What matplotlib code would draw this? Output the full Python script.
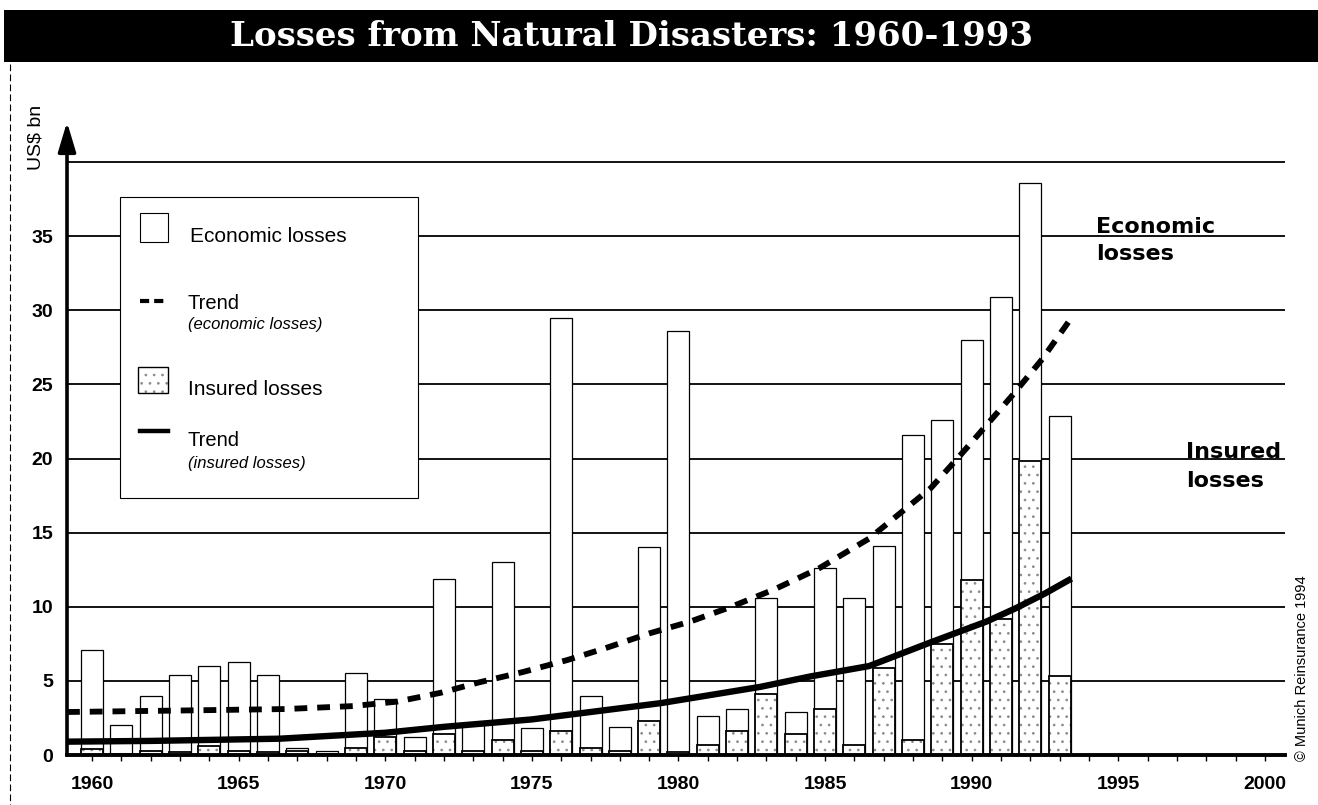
import numpy as np
import matplotlib
matplotlib.use("Agg")
import matplotlib.pyplot as plt
from matplotlib.patches import Rectangle
from matplotlib.lines import Line2D
from matplotlib.ticker import MultipleLocator

plt.rcParams['font.family'] = ['Liberation Sans', 'DejaVu Sans']
plt.rcParams['hatch.linewidth'] = 0.7

# values (US$ bn)
years = np.arange(1960, 1994)
economic = [7.1, 2.0, 4.0, 5.4, 6.0, 6.3, 5.4, 0.5, 0.3, 5.5,
            3.8, 1.2, 11.9, 2.0, 13.0, 1.8, 29.5, 4.0, 1.9, 14.0,
            28.6, 2.6, 3.1, 10.6, 2.9, 12.6, 10.6, 14.1, 21.6, 22.6,
            28.0, 30.9, 38.6, 22.9]
insured = [0.4, 0.1, 0.3, 0.2, 0.6, 0.3, 0.2, 0.3, 0.1, 0.5,
           1.2, 0.3, 1.4, 0.3, 1.0, 0.3, 1.6, 0.5, 0.3, 2.3,
           0.2, 0.7, 1.6, 4.1, 1.4, 3.1, 0.7, 5.9, 1.0, 7.5,
           11.8, 9.2, 19.8, 5.3]

econ_trend_x = [1959.15, 1963.0, 1966.6, 1968.9, 1970.4, 1971.9, 1973.2, 1974.7,
                1976.2, 1977.5, 1979.0, 1980.4, 1981.8, 1983.3, 1984.8, 1986.5,
                1988.6, 1989.6, 1990.7, 1991.4, 1992.4, 1993.4]
econ_trend_y = [2.9, 3.0, 3.1, 3.3, 3.6, 4.2, 4.9, 5.6,
                6.4, 7.2, 8.2, 9.0, 10.0, 11.2, 12.6, 14.6,
                18.0, 20.2, 22.7, 24.3, 26.7, 29.5]

ins_trend_x = [1959.15, 1962.0, 1966.4, 1970.0, 1972.0, 1975.0, 1976.6, 1979.4,
               1982.8, 1984.5, 1986.5, 1988.6, 1990.5, 1991.5, 1992.5, 1993.4]
ins_trend_y = [0.9, 0.95, 1.1, 1.5, 1.9, 2.4, 2.8, 3.5,
               4.6, 5.3, 6.0, 7.6, 9.0, 9.9, 10.9, 11.9]

x_ticks = [1960, 1965, 1970, 1975, 1980, 1985, 1990, 1995, 2000]
y_ticks = [0, 5, 10, 15, 20, 25, 30, 35]
grid_levels = [5, 10, 15, 20, 25, 30, 35, 40]

W, H = 1318, 805
fig = plt.figure(figsize=(W / 100, H / 100), dpi=100)
fig.patch.set_facecolor('white')


def fx(x):
    return x / W


def fy(y):
    return 1 - y / H


ax = fig.add_axes([fx(67), fy(755), (1285 - 67) / W, (755 - 122) / H])
ax.set_xlim(1959.15, 2000.68)
ax.set_ylim(0, 42.7)

for v in grid_levels:
    ax.axhline(v, color='black', lw=1.3, zorder=1)

ax.bar(years, economic, 0.75, color='white', edgecolor='black', linewidth=0.9, zorder=2)
ax.bar(years, insured, 0.75, color='white', edgecolor='#8a8a8a', hatch='..', linewidth=0, zorder=3)
ax.bar(years, insured, 0.75, fill=False, edgecolor='black', linewidth=1.3, zorder=3)

ax.plot(econ_trend_x, econ_trend_y, color='black', lw=4.2, linestyle=(0, (2.2, 1.7)),
        solid_capstyle='butt', zorder=4)
ax.plot(ins_trend_x, ins_trend_y, color='black', lw=4.6, solid_capstyle='butt', zorder=4)

for s in ['top', 'right', 'left']:
    ax.spines[s].set_visible(False)
ax.spines['bottom'].set_linewidth(2.8)
ax.spines['bottom'].set_zorder(5)

ax.annotate('', xy=(0, 1), xytext=(0, 0), xycoords='axes fraction',
            arrowprops=dict(arrowstyle='-|>,head_length=1.5,head_width=0.45',
                            lw=2.6, color='black', shrinkA=0, shrinkB=0,
                            mutation_scale=12),
            annotation_clip=False, zorder=6)

ax.set_xticks(x_ticks)
ax.xaxis.set_minor_locator(MultipleLocator(1))
ax.set_yticks(y_ticks)
ax.tick_params(axis='x', which='major', length=4, width=1, pad=11, labelsize=14)
ax.tick_params(axis='x', which='minor', length=4, width=1)
ax.tick_params(axis='y', length=0, pad=10, labelsize=14)
for lab in ax.get_xticklabels() + ax.get_yticklabels():
    lab.set_fontweight('bold')

# title band
fig.add_artist(Rectangle((fx(4), fy(62)), 1 - fx(4), 52 / H, transform=fig.transFigure,
                         facecolor='black', edgecolor='none', zorder=1))
fig.text(fx(631), fy(46), 'Losses from Natural Disasters: 1960-1993', color='white',
         fontsize=24.5, fontweight='bold', family='DejaVu Serif', ha='center', va='baseline')

# left border
fig.add_artist(Line2D([fx(10), fx(10)], [fy(64), fy(805)], transform=fig.transFigure,
                      color='black', lw=0.8, linestyle=(0, (6, 3))))

fig.text(fx(36), fy(137), 'US$ bn', rotation=90, fontsize=14, ha='center', va='center')

# legend
fig.add_artist(Rectangle((fx(120), fy(498)), (418 - 120) / W, (498 - 197) / H,
                         transform=fig.transFigure, facecolor='white', edgecolor='black',
                         lw=0.8, zorder=5))
fig.add_artist(Rectangle((fx(140), fy(242)), 28 / W, 29 / H, transform=fig.transFigure,
                         facecolor='white', edgecolor='black', lw=0.8, zorder=6))
fig.text(fx(190), fy(236), 'Economic losses', fontsize=15, va='center', zorder=6)
fig.add_artist(Line2D([fx(140), fx(168)], [fy(301), fy(301)], transform=fig.transFigure,
                      color='black', lw=3.0, linestyle=(0, (2.2, 1.2)), zorder=6))
fig.text(fx(188), fy(303), 'Trend', fontsize=14.5, va='center', zorder=6)
fig.text(fx(188), fy(324), '(economic losses)', fontsize=12, style='italic', va='center', zorder=6)
fig.add_artist(Rectangle((fx(138), fy(393)), 30 / W, 26 / H, transform=fig.transFigure,
                         facecolor='white', edgecolor='#8a8a8a', hatch='..', lw=0, zorder=6))
fig.add_artist(Rectangle((fx(138), fy(393)), 30 / W, 26 / H, transform=fig.transFigure,
                         fill=False, edgecolor='black', lw=1.0, zorder=6))
fig.text(fx(188), fy(389), 'Insured losses', fontsize=15, va='center', zorder=6)
fig.add_artist(Line2D([fx(140), fx(168)], [fy(431), fy(431)], transform=fig.transFigure,
                      color='black', lw=3.2, zorder=6))
fig.text(fx(188), fy(441), 'Trend', fontsize=14.5, va='center', zorder=6)
fig.text(fx(188), fy(463), '(insured losses)', fontsize=12, style='italic', va='center', zorder=6)

# direct labels on the right
fig.text(fx(1096), fy(233), 'Economic', fontsize=16, fontweight='bold', family='DejaVu Sans',
         va='baseline', zorder=6)
fig.text(fx(1096), fy(260), 'losses', fontsize=16, fontweight='bold', family='DejaVu Sans',
         va='baseline', zorder=6)
fig.text(fx(1186), fy(458), 'Insured', fontsize=16, fontweight='bold', family='DejaVu Sans',
         va='baseline', zorder=6)
fig.text(fx(1186), fy(487), 'losses', fontsize=16, fontweight='bold', family='DejaVu Sans',
         va='baseline', zorder=6)

fig.text(fx(1302), fy(668), '\u00a9 Munich Reinsurance 1994', rotation=90, fontsize=10.5,
         ha='center', va='center')

fig.savefig('out.png', dpi=100)
